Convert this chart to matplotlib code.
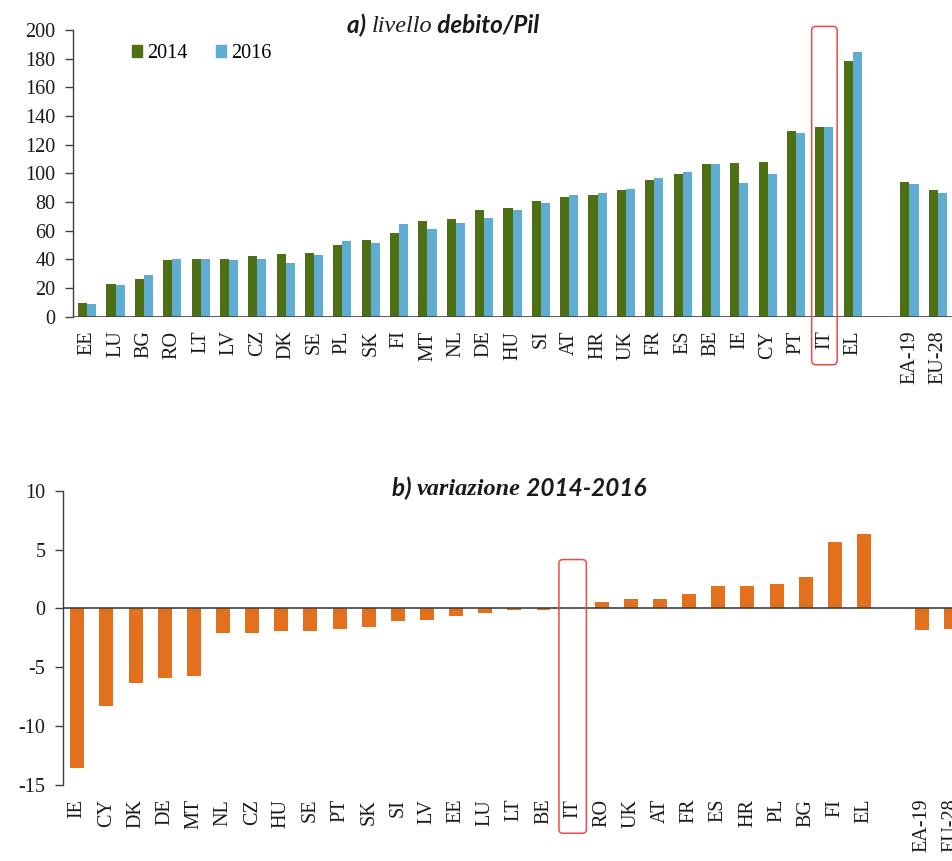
import matplotlib
matplotlib.use("Agg")
import numpy as np
import matplotlib.pyplot as plt
from matplotlib.patches import Patch, FancyBboxPatch

# ---------------------------------------------------------------------------
# Data
# ---------------------------------------------------------------------------
debt_countries = ["EE", "LU", "BG", "RO", "LT", "LV", "CZ", "DK", "SE", "PL",
                  "SK", "FI", "MT", "NL", "DE", "HU", "SI", "AT", "HR", "UK",
                  "FR", "ES", "BE", "IE", "CY", "PT", "IT", "EL"]
debt_2014 = [9.8, 22.8, 26.5, 39.5, 40.5, 40.5, 42.0, 43.7, 44.7, 49.8,
             53.5, 58.6, 66.5, 67.9, 74.2, 76.0, 80.5, 83.7, 84.7, 88.1,
             95.1, 99.5, 106.3, 107.2, 108.1, 129.8, 132.3, 178.6]
debt_2016 = [8.8, 21.9, 28.8, 40.5, 40.5, 39.5, 40.5, 37.7, 42.8, 52.6,
             51.6, 64.7, 61.2, 65.6, 68.8, 74.2, 79.5, 84.7, 86.3, 88.8,
             96.7, 101.2, 106.3, 93.3, 99.5, 127.9, 132.3, 184.4]

change_countries = ["IE", "CY", "DK", "DE", "MT", "NL", "CZ", "HU", "SE", "PT",
                    "SK", "SI", "LV", "EE", "LU", "LT", "BE", "IT", "RO", "UK",
                    "AT", "FR", "ES", "HR", "PL", "BG", "FI", "EL"]
change = [-13.6, -8.3, -6.3, -5.9, -5.77, -2.05, -2.05, -1.96, -1.96, -1.73,
          -1.62, -1.08, -0.97, -0.62, -0.4, -0.17, -0.17, 0.0, 0.57, 0.8,
          0.8, 1.22, 1.88, 1.88, 2.07, 2.64, 5.6, 6.36]

aggregates = ["EA-19", "EU-28"]
agg_2014 = [94.2, 88.1]
agg_2016 = [92.3, 86.3]
agg_change = [-1.85, -1.73]

HIGHLIGHT = "IT"

# ---------------------------------------------------------------------------
# Style
# ---------------------------------------------------------------------------
GREEN = "#4F6F14"
BLUE = "#5FADD3"
ORANGE = "#E2701C"
AXIS = "#404040"
RED = "#F04848"
SERIF = "Liberation Serif"
SANS = "Lato"

plt.rcParams.update({
    "font.family": SERIF,
    "font.size": 14.5,
    "axes.unicode_minus": False,
})


def style_axis(ax):
    for side in ("top", "right", "bottom"):
        ax.spines[side].set_visible(False)
    ax.spines["left"].set_color(AXIS)
    ax.spines["left"].set_linewidth(1.0)
    ax.tick_params(axis="y", direction="out", length=5.5, width=1.0,
                   color=AXIS, labelsize=14.5, labelcolor="#1a1a1a", pad=7)
    ax.tick_params(axis="x", length=0, labelsize=14.5, labelcolor="#1a1a1a",
                   pad=10)


def title_pieces(ax, x, y, pieces, size=17.5):
    prev = None
    for txt, fam, weight in pieces:
        if prev is None:
            prev = ax.text(x, y, txt, transform=ax.transAxes, fontsize=size,
                           fontweight=weight, fontstyle="italic", family=fam,
                           ha="left", va="baseline", color="#1a1a1a")
        else:
            prev = ax.annotate(txt, xy=(1, 0), xycoords=prev, fontsize=size,
                               fontweight=weight, fontstyle="italic", family=fam,
                               ha="left", va="bottom", color="#1a1a1a")


fig = plt.figure(figsize=(9.52, 8.61), dpi=100, facecolor="white")

# ===========================================================================
# a) debt level
# ===========================================================================
ax1 = fig.add_axes([0.0767, 0.6322, 0.9233, 0.333])
style_axis(ax1)

n = len(debt_countries)
x_c = np.arange(n)
x_a = np.arange(n + 1, n + 1 + len(aggregates))
w = 0.32

ax1.bar(x_c - w / 2, debt_2014, width=w, color=GREEN, zorder=2)
ax1.bar(x_c + w / 2, debt_2016, width=w, color=BLUE, zorder=2)
ax1.bar(x_a - w / 2, agg_2014, width=w, color=GREEN, zorder=2)
ax1.bar(x_a + w / 2, agg_2016, width=w, color=BLUE, zorder=2)
ax1.axhline(0, color=AXIS, lw=1.2, zorder=3)

ax1.set_xlim(-0.5, n + len(aggregates) + 0.5)
ax1.set_ylim(0, 200)
ax1.set_yticks(np.arange(0, 201, 20))
ax1.set_xticks(np.concatenate([x_c, x_a]))
ax1.set_xticklabels(debt_countries + aggregates, rotation=90, va="top")

handles = [Patch(color=GREEN, label="2014"), Patch(color=BLUE, label="2016")]
ax1.legend(handles=handles, loc="upper left", bbox_to_anchor=(0.067, 0.95),
           ncol=2, frameon=False, fontsize=14.5, handlelength=0.5,
           handleheight=0.5, handletextpad=0.25, columnspacing=1.4,
           borderaxespad=0, borderpad=0)

title_pieces(ax1, 0.312, 0.99, [
    ("a) ", SANS, "bold"),
    ("livello", SERIF, "normal"),
    (" debito/Pil", SANS, "bold"),
])

i_it = debt_countries.index(HIGHLIGHT)
ax1.add_patch(FancyBboxPatch((i_it - 0.45, -33.5), 0.9, 236.0,
                             boxstyle="round,pad=0,rounding_size=0.15",
                             mutation_aspect=20, fill=False, ec=RED, lw=1.1,
                             clip_on=False, zorder=5))

# ===========================================================================
# b) change 2014-2016
# ===========================================================================
ax2 = fig.add_axes([0.0659, 0.0883, 0.9488, 0.3418])
style_axis(ax2)

m = len(change_countries)
x2_c = np.arange(m)
x2_a = np.arange(m + 1, m + 1 + len(aggregates))
w2 = 0.48

ax2.bar(x2_c, change, width=w2, color=ORANGE, zorder=2)
ax2.bar(x2_a, agg_change, width=w2, color=ORANGE, zorder=2)
ax2.axhline(0, color=AXIS, lw=1.2, zorder=3)

ax2.set_xlim(-0.5, m + len(aggregates) + 0.5)
ax2.set_ylim(-15, 10)
ax2.set_yticks(np.arange(-15, 11, 5))
ax2.set_xticks(np.concatenate([x2_c, x2_a]))
ax2.set_xticklabels(change_countries + aggregates, rotation=90, va="top")

title_pieces(ax2, 0.3646, 0.982, [
    ("b) ", SANS, "bold"),
    ("variazione", SERIF, "bold"),
    (" 2014-2016", SANS, "bold"),
])

j_it = change_countries.index(HIGHLIGHT)
ax2.add_patch(FancyBboxPatch((j_it - 0.47, -19.1), 0.94, 23.25,
                             boxstyle="round,pad=0,rounding_size=0.15",
                             mutation_aspect=2, fill=False, ec=RED, lw=1.1,
                             clip_on=False, zorder=5))

fig.savefig("out.png", dpi=100, facecolor="white")
